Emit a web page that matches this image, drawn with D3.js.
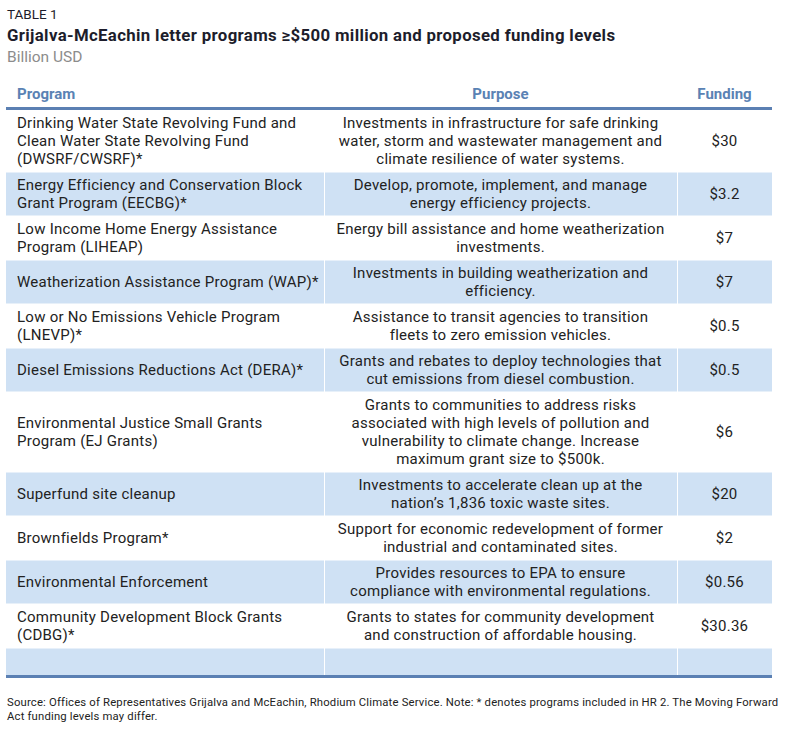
<!DOCTYPE html>
<html><head><meta charset="utf-8">
<script src="https://cdn.jsdelivr.net/npm/d3@7"></script>
<style>body{margin:0;background:#fff}svg{display:block}</style>
</head><body>
<script>
const programs = [
  ["Drinking Water State Revolving Fund and","Clean Water State Revolving Fund","(DWSRF/CWSRF)*"],
  ["Energy Efficiency and Conservation Block","Grant Program (EECBG)*"],
  ["Low Income Home Energy Assistance","Program (LIHEAP)"],
  ["Weatherization Assistance Program (WAP)*"],
  ["Low or No Emissions Vehicle Program","(LNEVP)*"],
  ["Diesel Emissions Reductions Act (DERA)*"],
  ["Environmental Justice Small Grants","Program (EJ Grants)"],
  ["Superfund site cleanup"],
  ["Brownfields Program*"],
  ["Environmental Enforcement"],
  ["Community Development Block Grants","(CDBG)*"]
];
const purposes = [
  ["Investments in infrastructure for safe drinking","water, storm and wastewater management and","climate resilience of water systems."],
  ["Develop, promote, implement, and manage","energy efficiency projects."],
  ["Energy bill assistance and home weatherization","investments."],
  ["Investments in building weatherization and","efficiency."],
  ["Assistance to transit agencies to transition","fleets to zero emission vehicles."],
  ["Grants and rebates to deploy technologies that","cut emissions from diesel combustion."],
  ["Grants to communities to address risks","associated with high levels of pollution and","vulnerability to climate change. Increase","maximum grant size to $500k."],
  ["Investments to accelerate clean up at the","nation\u2019s 1,836 toxic waste sites."],
  ["Support for economic redevelopment of former","industrial and contaminated sites."],
  ["Provides resources to EPA to ensure","compliance with environmental regulations."],
  ["Grants to states for community development","and construction of affordable housing."]
];
const funding = ["$30","$3.2","$7","$7","$0.5","$0.5","$6","$20","$2","$0.56","$30.36"];
const headers = ["Program","Purpose","Funding"];
const tableLabel = "TABLE 1";
const title = "Grijalva-McEachin letter programs \u2265$500 million and proposed funding levels";
const subtitle = "Billion USD";
const sourceLines = ["Source: Offices of Representatives Grijalva and McEachin, Rhodium Climate Service. Note: * denotes programs included in HR 2. The Moving Forward","Act funding levels may differ."];

const W = 785, H = 734;
const FONT = "Roboto, 'Noto Sans', sans-serif";
const svg = d3.select("body").append("svg").attr("width", W).attr("height", H).style("font-family", FONT);

const left = 6, right = 772, col1 = 324, col2 = 677;
const tableTop = 110, lineH = 18, pad = 8, emptyH = 27;

const rows = programs.map((p, i) => ({p, q: purposes[i], f: funding[i], n: Math.max(p.length, purposes[i].length, 1)}));
let y = tableTop;
rows.forEach(r => { r.y0 = y; r.h = r.n * lineH + pad; y += r.h; });
const emptyRow = {y0: y, h: emptyH};
const tableBottom = y + emptyH;

// titles
svg.append("text").attr("x", 7).attr("y", 19).attr("font-size", 13.5).attr("fill", "#1d1d2b").text(tableLabel);
svg.append("text").attr("x", 7).attr("y", 41).attr("font-size", 16.8).attr("letter-spacing", 0.35).attr("font-weight", 700).attr("fill", "#1d1d2b").text(title);
svg.append("text").attr("x", 7).attr("y", 62).attr("font-size", 15.5).attr("fill", "#8c8c8c").text(subtitle);

// header
const hx = [17, (col1 + col2) / 2, (col2 + right) / 2];
const ha = ["start", "middle", "middle"];
svg.selectAll("text.hdr").data(headers).join("text").attr("class", "hdr")
  .attr("x", (d, i) => hx[i]).attr("y", 99).attr("text-anchor", (d, i) => ha[i])
  .attr("font-size", 15).attr("font-weight", 700).attr("fill", "#5a82b4").text(d => d);

// row backgrounds
const bgs = rows.map((r, i) => ({y0: r.y0, h: r.h, fill: i % 2 ? "#cfe1f4" : "#ffffff"})).concat([{y0: emptyRow.y0, h: emptyRow.h, fill: "#cfe1f4"}]);
svg.selectAll("rect.bg").data(bgs).join("rect").attr("class", "bg")
  .attr("x", left).attr("width", right - left).attr("y", d => d.y0).attr("height", d => d.h).attr("fill", d => d.fill);
svg.selectAll("line.sep").data(bgs.slice(1)).join("line").attr("class", "sep")
  .attr("x1", left).attr("x2", right).attr("y1", d => d.y0).attr("y2", d => d.y0).attr("stroke", "#fff").attr("stroke-width", 1);
[col1, col2].forEach(x => svg.append("line").attr("x1", x + 0.5).attr("x2", x + 0.5).attr("y1", tableTop).attr("y2", tableBottom).attr("stroke", "#fff").attr("stroke-width", 1));

// rules
svg.append("rect").attr("x", left).attr("width", right - left).attr("y", 107).attr("height", 3).attr("fill", "#5b80b3");
svg.append("rect").attr("x", left).attr("width", right - left).attr("y", tableBottom).attr("height", 3).attr("fill", "#5b80b3");

// cell text
const fs = 15, ls = 0.25;
const g = svg.selectAll("g.row").data(rows).join("g").attr("class", "row");
function cell(sel, key, x, anchor) {
  sel.each(function(r) {
    const arr = r[key];
    const cy = r.y0 + r.h / 2;
    const first = cy - (arr.length - 1) * lineH / 2 + 5;
    d3.select(this).selectAll("text." + key).data(arr).join("text").attr("class", key)
      .attr("x", x).attr("y", (d, j) => first + j * lineH).attr("text-anchor", anchor)
      .attr("font-size", fs).attr("letter-spacing", ls).attr("fill", "#222").text(d => d);
  });
}
cell(g, "p", 17, "start");
cell(g, "q", (col1 + col2) / 2, "middle");
g.append("text").attr("x", (col2 + right) / 2).attr("y", r => r.y0 + r.h / 2 + 5).attr("text-anchor", "middle")
  .attr("font-size", fs).attr("letter-spacing", ls).attr("fill", "#222").text(r => r.f);

// source
svg.selectAll("text.src").data(sourceLines).join("text").attr("class", "src")
  .attr("x", 7).attr("y", (d, i) => 706 + i * 13.5).attr("font-size", 11.3).attr("letter-spacing", 0.18).attr("fill", "#222").text(d => d);
</script>
</body></html>
